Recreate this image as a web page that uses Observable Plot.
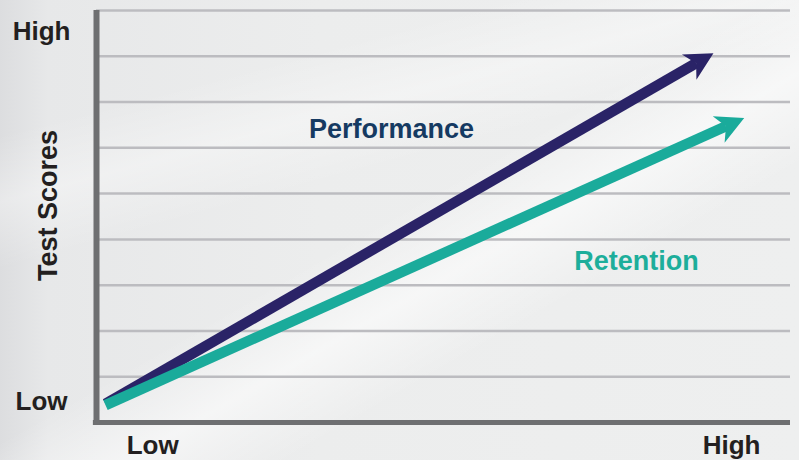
<!DOCTYPE html>
<html>
<head>
<meta charset="utf-8">
<script src="https://cdn.jsdelivr.net/npm/d3@7"></script>
<script src="https://cdn.jsdelivr.net/npm/@observablehq/plot@0.6"></script>
<style>
  html, body { margin: 0; padding: 0; }
  body {
    width: 799px; height: 460px; overflow: hidden;
    background:
      linear-gradient(150deg, rgba(255,255,255,0) 48%, rgba(255,255,255,0.55) 58%, rgba(255,255,255,0) 68%),
      linear-gradient(165deg, rgba(255,255,255,0) 20%, rgba(255,255,255,0.35) 30%, rgba(255,255,255,0) 40%),
      linear-gradient(90deg, #dcdddf 0%, #e7e8e9 6%, #eceded 40%, #eeefef 100%);
  }
  #chart svg { display: block; }
</style>
</head>
<body>
<div id="chart"></div>
<script>
// ---- data ----
const series = ["Performance", "Retention"];
const startX = [0.13, 0.13];
const startY = [0.41, 0.38];
const endX = [8.64, 9.07];
const endY = [7.85, 6.47];
const seriesColors = ["#2a2367", "#1aab9b"];
const labelColors = ["#153a62", "#1dae9b"];
const labelX = [4.25, 7.78];
const labelY = [6.40, 3.52];

const gridValues = [1, 2, 3, 4, 5, 6, 7, 8, 9];
const xTicks = [0.81, 9.15];
const xTickLabels = ["Low", "High"];
const yTicks = [0.46, 8.54];
const yTickLabels = ["Low", "High"];
const yTitle = "Test Scores";

const rows = series.map((s, i) => ({
  name: s, x1: startX[i], y1: startY[i], x2: endX[i], y2: endY[i],
  color: seriesColors[i], labelColor: labelColors[i], lx: labelX[i], ly: labelY[i]
}));

// arrowhead symbol: origin at the notch (end of shaft), pointing +x
const arrowHead = {
  draw(context, size) {
    const s = Math.sqrt(size / Math.PI);
    context.moveTo(20 * s, 0);
    context.lineTo(-8 * s, -14.5 * s);
    context.lineTo(0, 0);
    context.lineTo(-8 * s, 14.5 * s);
    context.closePath();
  }
};

const font = "'Liberation Sans', Arial, Helvetica, sans-serif";

function build(angles) {
  return Plot.plot({
    width: 799,
    height: 460,
    marginLeft: 96,
    marginRight: 9,
    marginTop: 10,
    marginBottom: 38,
    style: { fontFamily: font, background: "transparent", color: "#231f20", overflow: "visible" },
    x: { domain: [0, 10] },
    y: { domain: [0, 9] },
    marks: [
      Plot.ruleY(gridValues, { stroke: "#bcbcc0", strokeWidth: 2.5 }),
      Plot.ruleY([0], { x1: -0.045, x2: 10, stroke: "#6e6f71", strokeWidth: 5 }),
      Plot.ruleX([0], { y1: -0.055, y2: 9, stroke: "#6e6f71", strokeWidth: 6 }),
      Plot.axisX({
        ticks: xTicks, tickFormat: d => xTickLabels[xTicks.indexOf(d)],
        tickSize: 0, tickPadding: 13, fontSize: 26, fontWeight: "bold", label: null
      }),
      Plot.axisY({
        ticks: yTicks, tickFormat: d => yTickLabels[yTicks.indexOf(d)],
        tickSize: 0, tickPadding: 55, textAnchor: "middle", fontSize: 26, fontWeight: "bold", label: null
      }),
      Plot.text([yTitle], {
        frameAnchor: "left", y: 4.74, dx: -48.5, rotate: -90, text: d => d,
        textAnchor: "middle", lineAnchor: "middle", fontSize: 27, fontWeight: "bold", fill: "#231f20"
      }),
      Plot.link(rows, {
        x1: "x1", y1: "y1", x2: "x2", y2: "y2",
        stroke: "color", strokeWidth: 10.5, strokeLinecap: "butt"
      }),
      Plot.dot(rows, {
        x: "x2", y: "y2", r: 1, symbol: arrowHead,
        fill: "color", stroke: "none",
        rotate: angles ? (d, i) => angles[i] : 0
      }),
      Plot.text(rows, {
        x: "lx", y: "ly", text: "name", fill: "labelColor",
        fontSize: 27, fontWeight: "bold", textAnchor: "middle", lineAnchor: "middle"
      })
    ]
  });
}

const probe = build(null);
const sx = probe.scale("x"), sy = probe.scale("y");
const angles = rows.map(r => {
  const dx = sx.apply(r.x2) - sx.apply(r.x1);
  const dy = sy.apply(r.y2) - sy.apply(r.y1);
  return Math.atan2(dy, dx) * 180 / Math.PI;
});
document.getElementById("chart").appendChild(build(angles));
</script>
</body>
</html>
